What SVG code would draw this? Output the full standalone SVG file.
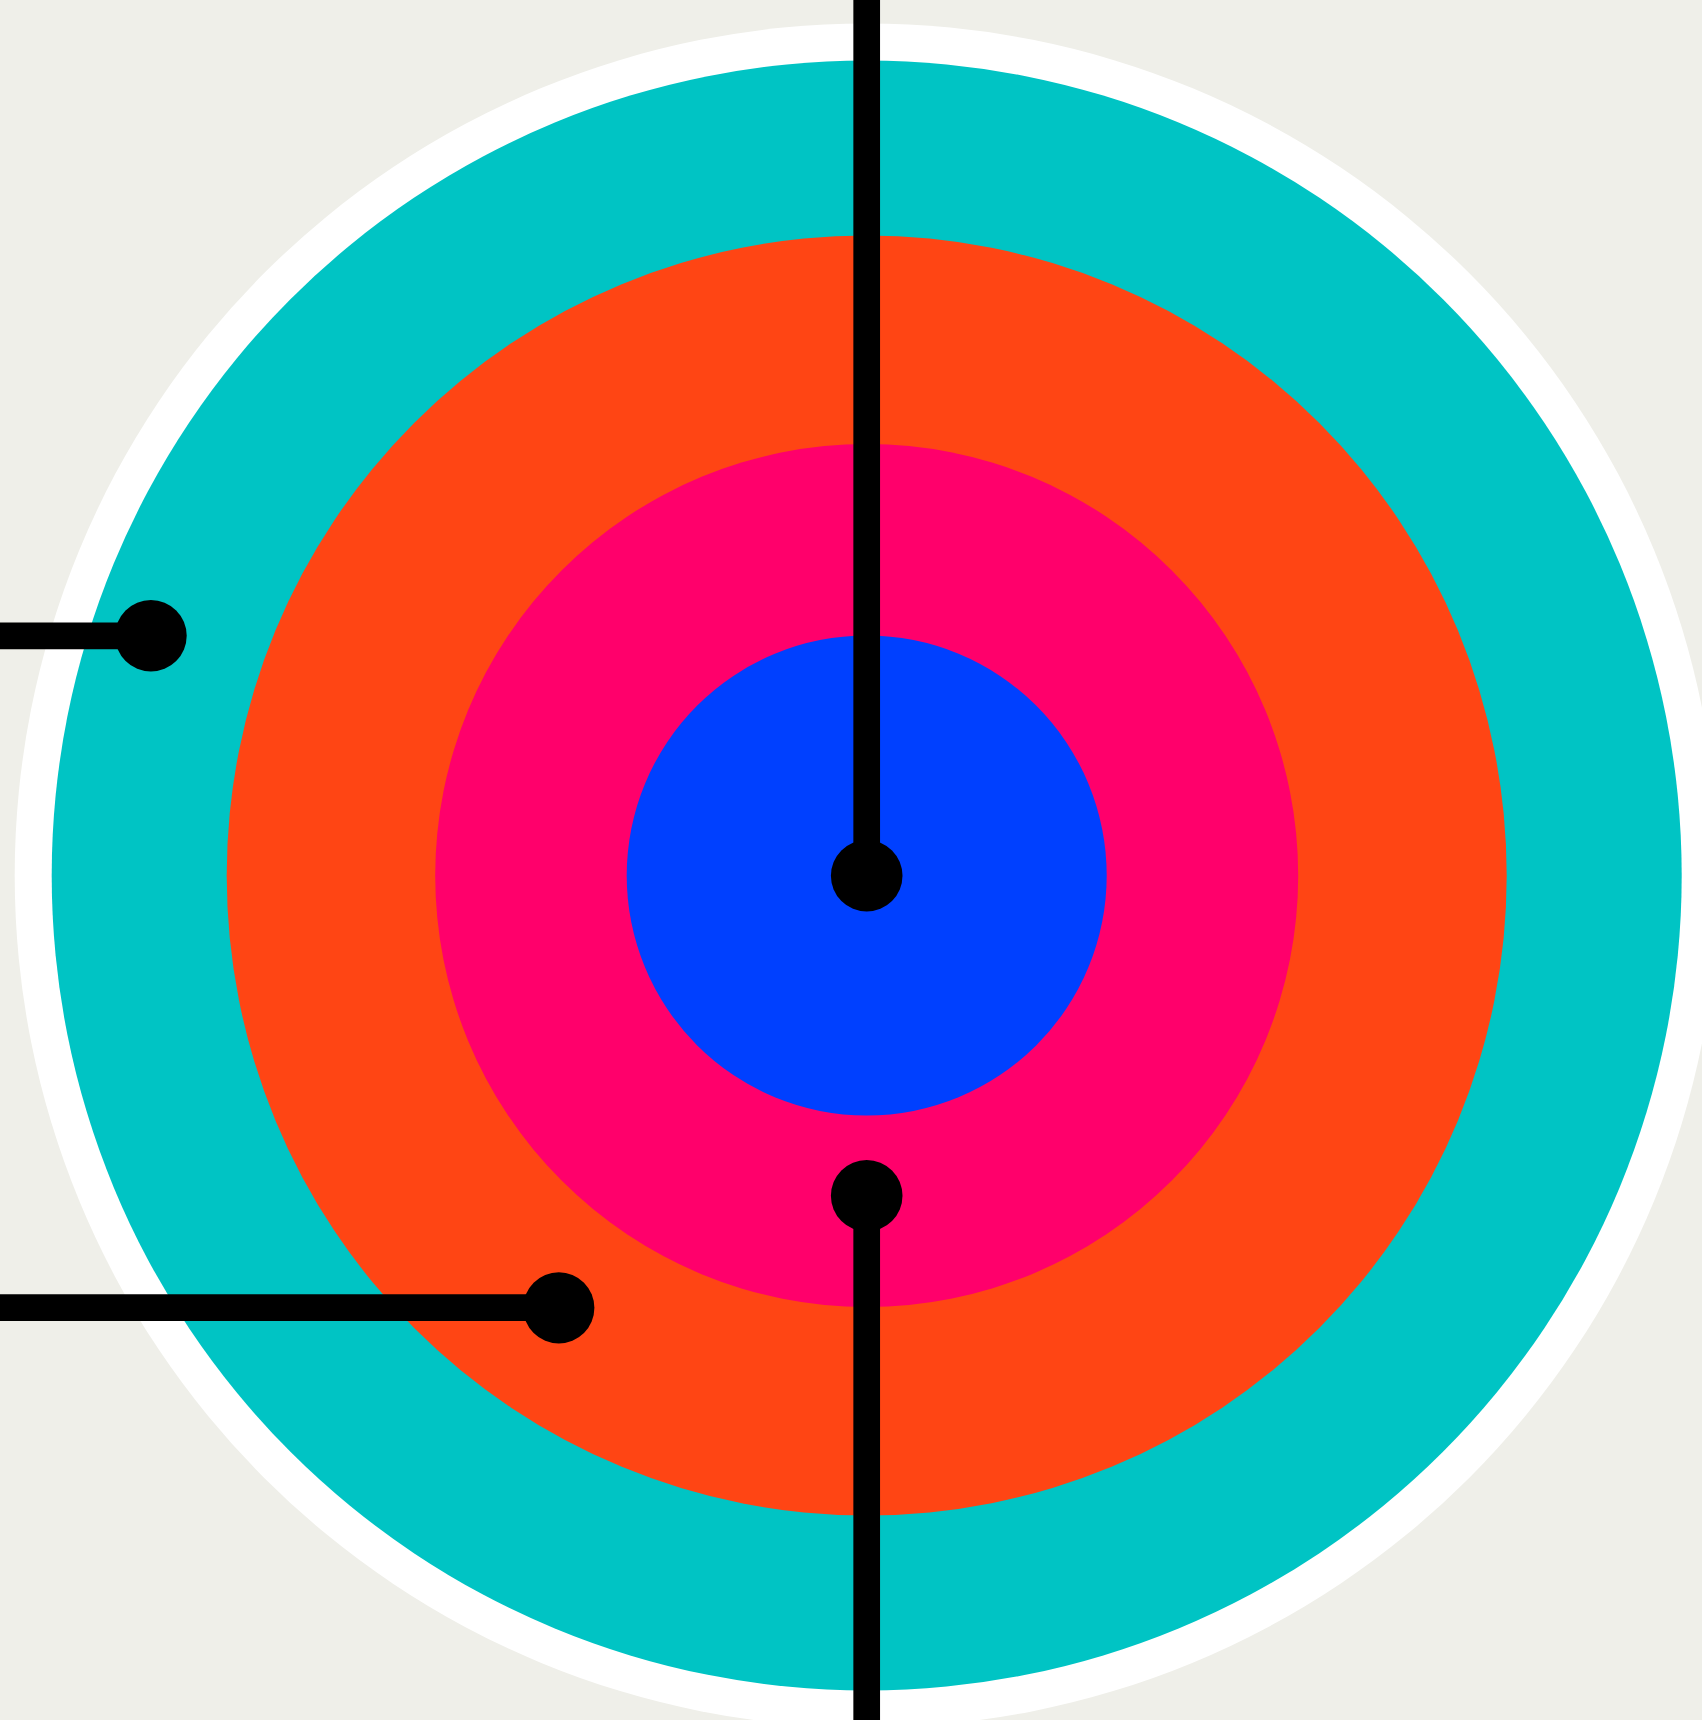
<svg xmlns="http://www.w3.org/2000/svg" width="1702" height="1720" viewBox="0 0 1702 1720">
<style>
.ln{stroke:#000;stroke-width:26.7;fill:none}
.dot{fill:#000}
</style>
<rect x="0" y="0" width="1702" height="1720" fill="#EFEFE9"/>
<g id="rings">
<circle id="ring-white" cx="866.7" cy="875.5" r="852" fill="#FFFFFF"/>
<circle id="ring-teal" cx="866.7" cy="875.5" r="815" fill="#00C4C4"/>
<circle id="ring-orange" cx="866.7" cy="875.5" r="640" fill="#FF4514"/>
<circle id="ring-pink" cx="866.7" cy="875.5" r="431.5" fill="#FF006B"/>
<circle id="ring-blue" cx="866.7" cy="875.5" r="240" fill="#0040FF"/>
</g>
<g id="connectors">
<line class="ln" x1="866.7" y1="0" x2="866.7" y2="875.5"/>
<line class="ln" x1="866.7" y1="1196" x2="866.7" y2="1720"/>
<line class="ln" x1="0" y1="635.8" x2="150.9" y2="635.8"/>
<line class="ln" x1="0" y1="1307.7" x2="558.8" y2="1307.7"/>
</g>
<g id="dot-center"><circle class="dot" cx="866.7" cy="875.8" r="35.8"/></g>
<g id="dot-bottom"><circle class="dot" cx="866.7" cy="1195.8" r="35.8"/></g>
<g id="dot-left"><circle class="dot" cx="150.9" cy="635.8" r="35.8"/></g>
<g id="dot-lowerleft"><circle class="dot" cx="558.8" cy="1307.8" r="35.6"/></g>
</svg>
